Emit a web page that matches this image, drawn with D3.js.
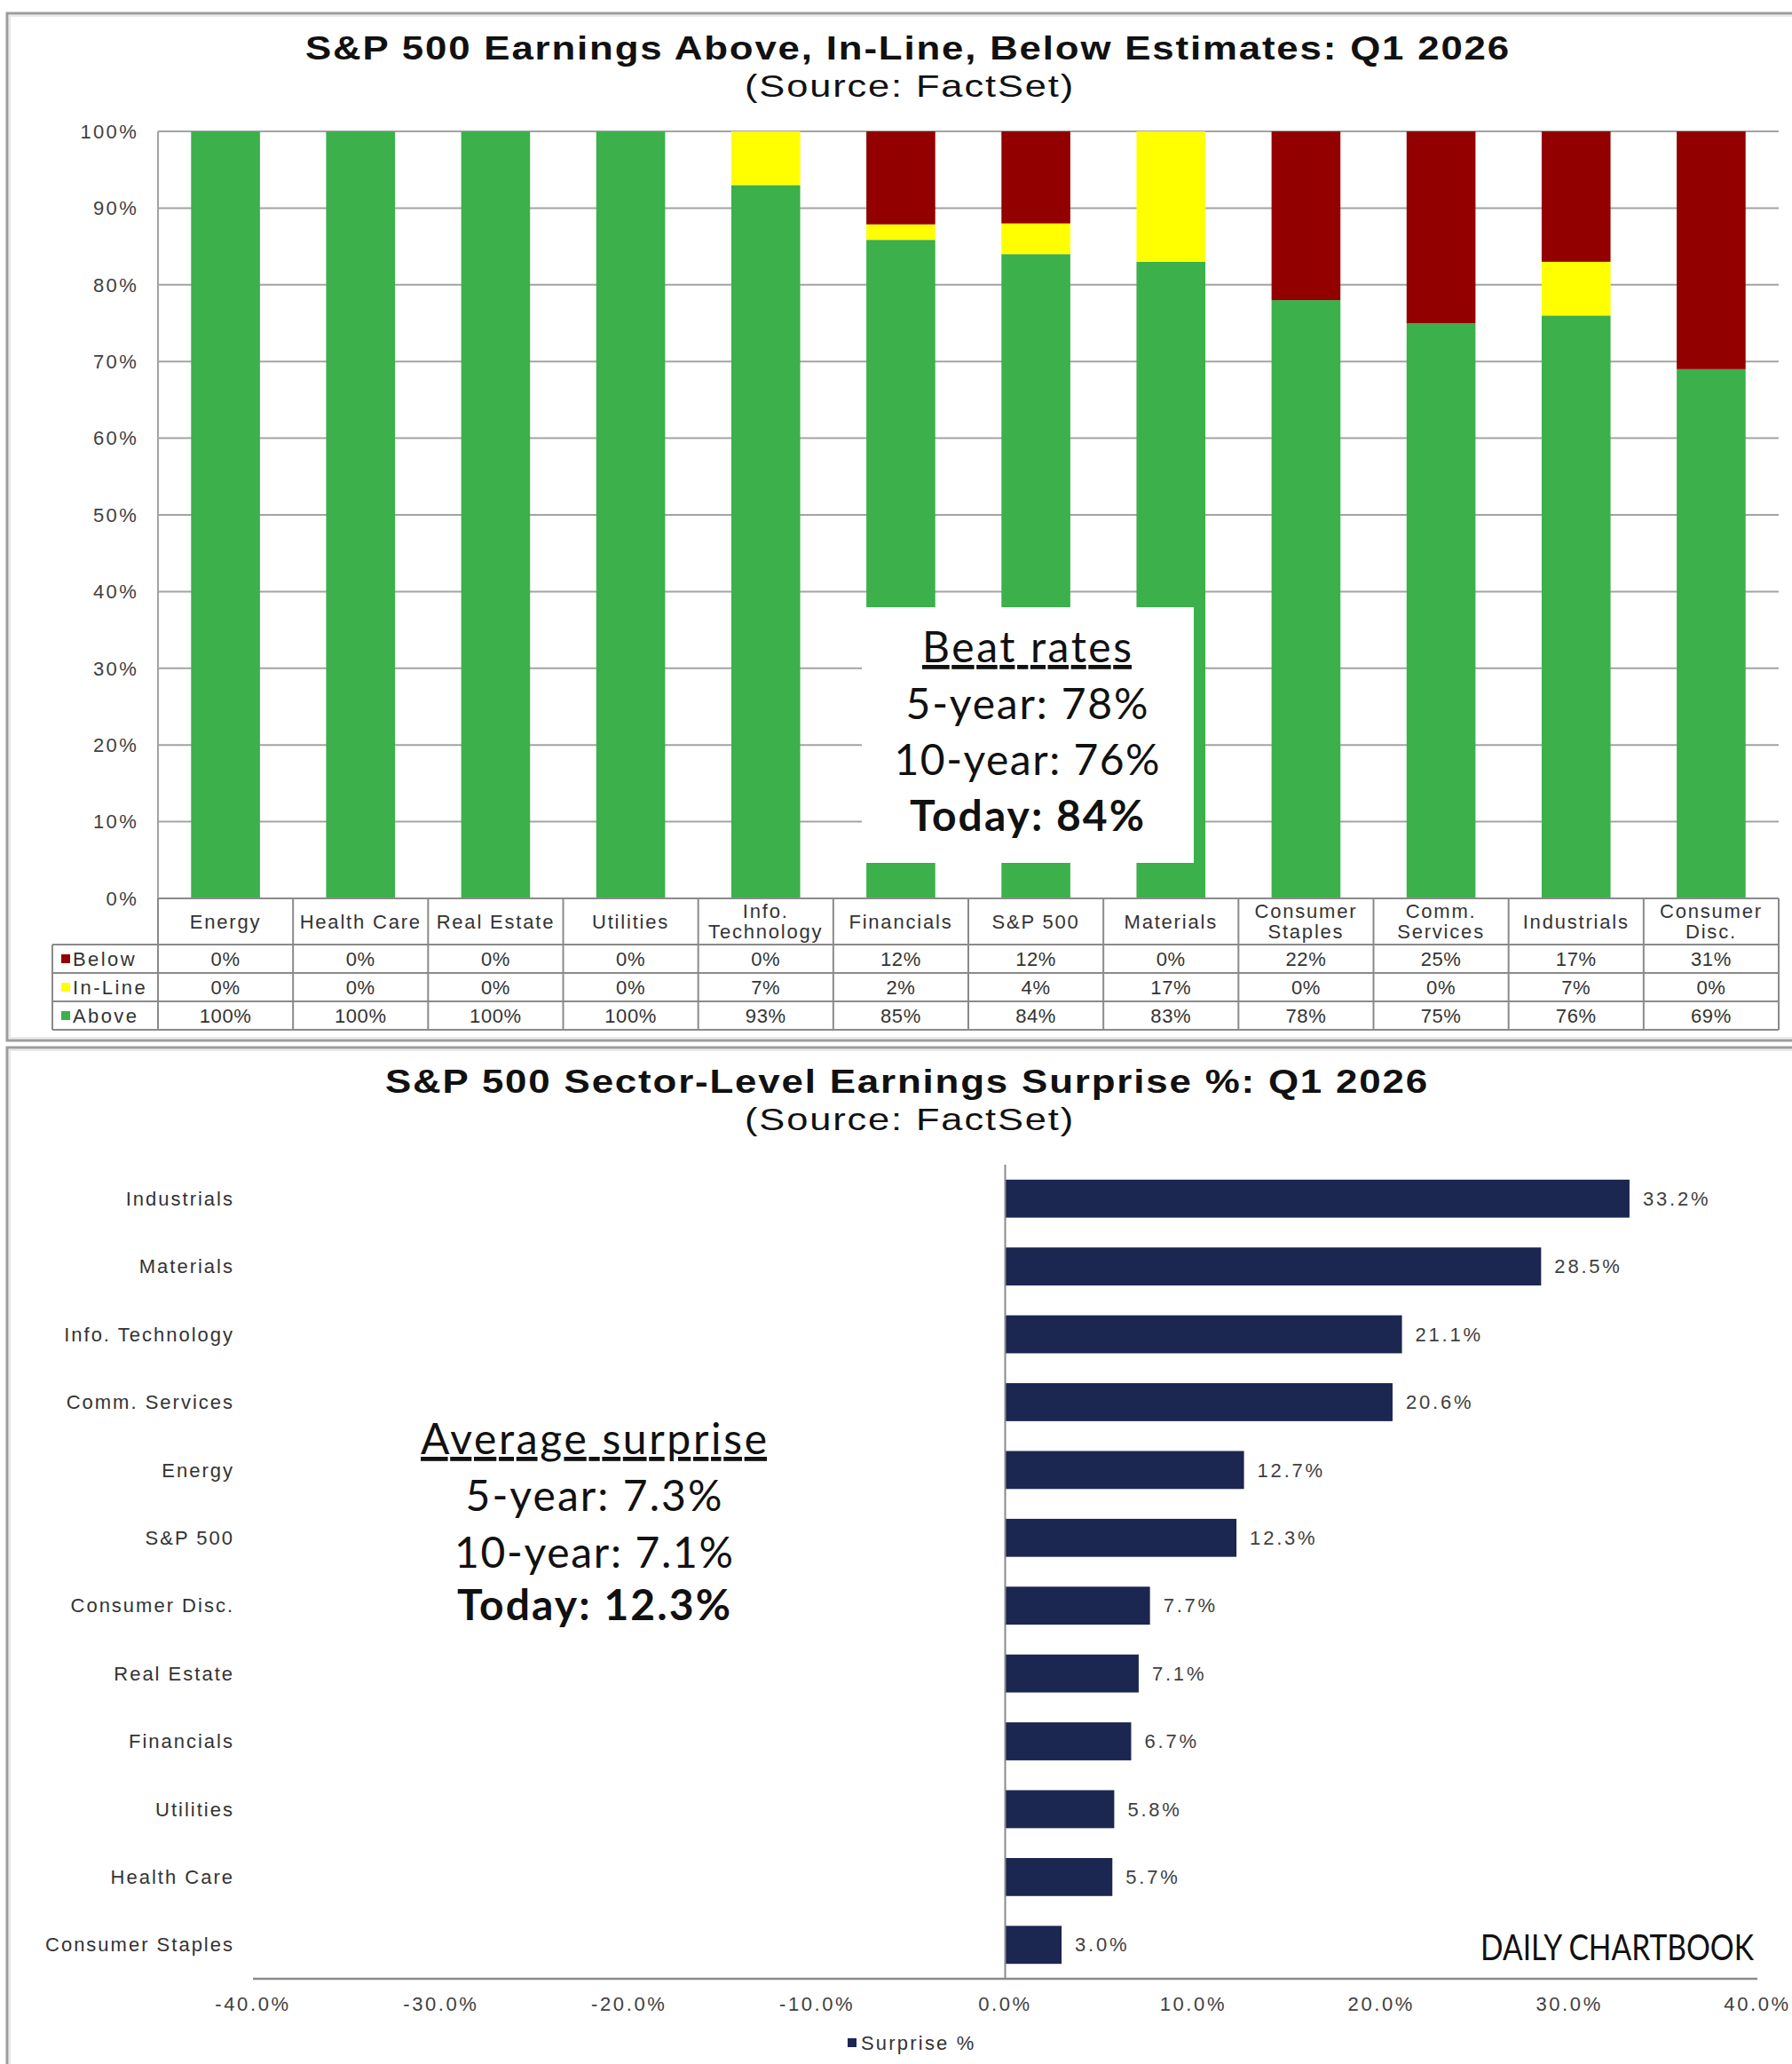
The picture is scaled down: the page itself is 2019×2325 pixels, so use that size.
<!DOCTYPE html>
<html>
<head>
<meta charset="utf-8">
<script src="https://cdn.jsdelivr.net/npm/d3@7"></script>
<style>
  html, body { margin: 0; padding: 0; background: #fff; }
  svg { display: block; }
</style>
</head>
<body>
<svg id="chart" width="2019" height="2325"></svg>
<script>
// ---------- DATA ----------
const beatCategories = ["Energy", "Health Care", "Real Estate", "Utilities", "Info.\nTechnology", "Financials", "S&P 500", "Materials", "Consumer\nStaples", "Comm.\nServices", "Industrials", "Consumer\nDisc."];
const belowPct  = [0, 0, 0, 0, 0, 12, 12, 0, 22, 25, 17, 31];
const inLinePct = [0, 0, 0, 0, 7, 2, 4, 17, 0, 0, 7, 0];
const abovePct  = [100, 100, 100, 100, 93, 85, 84, 83, 78, 75, 76, 69];
const seriesNames = ["Below", "In-Line", "Above"];
const yTickValues = [0, 0.1, 0.2, 0.3, 0.4, 0.5, 0.6, 0.7, 0.8, 0.9, 1.0];

const surpriseSectors = ["Industrials", "Materials", "Info. Technology", "Comm. Services", "Energy", "S&P 500", "Consumer Disc.", "Real Estate", "Financials", "Utilities", "Health Care", "Consumer Staples"];
const surpriseValues  = [33.2, 28.5, 21.1, 20.6, 12.7, 12.3, 7.7, 7.1, 6.7, 5.8, 5.7, 3.0];
const xTickValues = [-40, -30, -20, -10, 0, 10, 20, 30, 40];

const beatNote = ["Beat rates", "5-year: 78%", "10-year: 76%", "Today: 84%"];
const surpriseNote = ["Average surprise", "5-year: 7.3%", "10-year: 7.1%", "Today: 12.3%"];

// ---------- STYLE ----------
const colors = { "Above": "#3bb04b", "In-Line": "#ffff00", "Below": "#930000" };
const navy = "#1b2750";
const gridColor = "#a3a3a3";
const textColor = "#333";
const axisFont = "'Liberation Sans', Arial, sans-serif";
const noteFont = "Lato, 'Open Sans', sans-serif";

const svg = d3.select("#chart");
svg.append("rect").attr("width", 2019).attr("height", 2325).attr("fill", "#fff");

// panel frames
function frame(x, y, w, h) {
  svg.append("rect").attr("x", x).attr("y", y).attr("width", w).attr("height", h)
    .attr("fill", "none").attr("stroke", "#9c9c9c").attr("stroke-width", 3);
  svg.append("rect").attr("x", x + 3).attr("y", y + 3).attr("width", w - 6).attr("height", h - 6)
    .attr("fill", "none").attr("stroke", "#e2e2e2").attr("stroke-width", 1.5);
}
frame(8, 15, 2040, 1157);
frame(8, 1180, 2040, 1200);

function titleText(txt, cx, y, size, weight, width) {
  svg.append("text").attr("x", cx).attr("y", y).attr("text-anchor", "middle")
    .attr("font-family", axisFont).attr("font-size", size).attr("font-weight", weight)
    .attr("fill", "#111").attr("letter-spacing", 1.5)
    .attr("textLength", width).attr("lengthAdjust", "spacingAndGlyphs")
    .text(txt);
}
function xlText(sel, ls) {
  return sel.attr("font-family", axisFont).attr("font-size", 22).attr("letter-spacing", ls);
}

// ================= TOP CHART =================
titleText("S&P 500 Earnings Above, In-Line, Below Estimates: Q1 2026", 1023, 67, 36, "bold", 1358);
titleText("(Source: FactSet)", 1025, 109, 35, "normal", 372);

const plotL = 178, plotR = 2004, plotT = 148, plotB = 1012;
const x1 = d3.scaleBand().domain(beatCategories).range([plotL, plotR]).paddingInner(0.49).paddingOuter(0.245);
const xCell = d3.scaleBand().domain(beatCategories).range([plotL, plotR]).padding(0);
const y1 = d3.scaleLinear().domain([0, 1]).range([plotB, plotT]);

// gridlines
svg.append("g").selectAll("line").data(yTickValues.filter(d => d > 0)).join("line")
  .attr("x1", plotL).attr("x2", plotR).attr("y1", d => y1(d)).attr("y2", d => y1(d))
  .attr("stroke", gridColor).attr("stroke-width", 2);
svg.append("line").attr("x1", plotL).attr("x2", plotL).attr("y1", plotT).attr("y2", plotB)
  .attr("stroke", gridColor).attr("stroke-width", 2);

// y labels
xlText(svg.append("g").selectAll("text").data(yTickValues).join("text"), 2.3)
  .attr("x", 156).attr("y", d => y1(d)).attr("dy", "0.35em").attr("text-anchor", "end")
  .attr("fill", "#404040")
  .text(d => d3.format(".0%")(d));

// stacked bars
const rows = beatCategories.map((c, i) => ({ cat: c, "Above": abovePct[i], "In-Line": inLinePct[i], "Below": belowPct[i] }));
const stack = d3.stack().keys(["Above", "In-Line", "Below"]).offset(d3.stackOffsetExpand);
const stacked = stack(rows);
svg.append("g").selectAll("g").data(stacked).join("g")
  .attr("fill", s => colors[s.key])
  .selectAll("rect").data(s => s).join("rect")
  .attr("x", d => x1(d.data.cat)).attr("width", x1.bandwidth())
  .attr("y", d => y1(d[1])).attr("height", d => Math.max(0, y1(d[0]) - y1(d[1])));

// note box
const bx = 971, by = 684, bw = 374, bh = 288;
svg.append("rect").attr("x", bx).attr("y", by).attr("width", bw).attr("height", bh).attr("fill", "#fff");
function note(lines, cx, baselines, widths) {
  lines.forEach((t, i) => {
    svg.append("text").attr("x", cx).attr("y", baselines[i]).attr("text-anchor", "middle")
      .attr("font-family", noteFont).attr("font-size", 48)
      .attr("font-weight", i === 3 ? 700 : 400).attr("fill", "#111")
      .attr("text-decoration", i === 0 ? "underline" : null)
      .attr("textLength", widths[i]).attr("lengthAdjust", "spacing")
      .text(t);
  });
}
note(beatNote, 1157, [746, 810, 873, 936], [236, 273, 299, 264]);

// table
const rowY = [1012, 1064, 1096, 1128, 1160];
const tableL = 59;
const tbl = svg.append("g").attr("stroke", "#8a8a8a").attr("stroke-width", 2);
tbl.append("line").attr("x1", plotL).attr("x2", plotR).attr("y1", rowY[0]).attr("y2", rowY[0]);
for (let r = 1; r < rowY.length; r++) {
  tbl.append("line").attr("x1", tableL).attr("x2", plotR).attr("y1", rowY[r]).attr("y2", rowY[r]);
}
beatCategories.forEach(c => {
  tbl.append("line").attr("x1", xCell(c)).attr("x2", xCell(c)).attr("y1", rowY[0]).attr("y2", rowY[4]);
});
tbl.append("line").attr("x1", plotR).attr("x2", plotR).attr("y1", rowY[0]).attr("y2", rowY[4]);
tbl.append("line").attr("x1", tableL).attr("x2", tableL).attr("y1", rowY[1]).attr("y2", rowY[4]);

// header labels
const hdr = xlText(svg.append("g"), 1.8).attr("fill", textColor).attr("text-anchor", "middle");
beatCategories.forEach(c => {
  const parts = c.split("\n");
  const cx = xCell(c) + xCell.bandwidth() / 2;
  const t = hdr.append("text").attr("x", cx).attr("y", parts.length === 1 ? 1038 : 1026);
  parts.forEach((p, i) => {
    t.append("tspan").attr("x", cx).attr("dy", i === 0 ? "0.35em" : 23).text(p);
  });
});
// values rows
const seriesArrays = { "Below": belowPct, "In-Line": inLinePct, "Above": abovePct };
seriesNames.forEach((s, r) => {
  const cy = (rowY[r + 1] + rowY[r + 2]) / 2;
  svg.append("rect").attr("x", 69).attr("y", cy - 5).attr("width", 10).attr("height", 10).attr("fill", colors[s]);
  xlText(svg.append("text"), 2.4).attr("x", 82).attr("y", cy).attr("dy", "0.35em")
    .attr("fill", textColor).text(s);
  beatCategories.forEach((c, i) => {
    xlText(svg.append("text"), 0.6).attr("x", xCell(c) + xCell.bandwidth() / 2).attr("y", cy).attr("dy", "0.35em")
      .attr("text-anchor", "middle").attr("fill", textColor)
      .text(seriesArrays[s][i] + "%");
  });
});

// ================= BOTTOM CHART =================
titleText("S&P 500 Sector-Level Earnings Surprise %: Q1 2026", 1022, 1231, 36, "bold", 1176);
titleText("(Source: FactSet)", 1025, 1273, 35, "normal", 372);

const x2 = d3.scaleLinear().domain([-40, 40]).range([285, 1980]);
const y2 = d3.scaleBand().domain(surpriseSectors).range([1312, 2229]).paddingInner(0.44).paddingOuter(0.22);

// bars
svg.append("g").selectAll("rect").data(surpriseSectors).join("rect")
  .attr("x", (d, i) => x2(Math.min(0, surpriseValues[i])))
  .attr("width", (d, i) => Math.abs(x2(surpriseValues[i]) - x2(0)))
  .attr("y", d => y2(d)).attr("height", y2.bandwidth())
  .attr("fill", navy);

// zero line & axis
svg.append("line").attr("x1", x2(0)).attr("x2", x2(0)).attr("y1", 1312).attr("y2", 2229)
  .attr("stroke", "#8a8a8a").attr("stroke-width", 2);
svg.append("line").attr("x1", x2(-40)).attr("x2", x2(40)).attr("y1", 2229).attr("y2", 2229)
  .attr("stroke", "#8a8a8a").attr("stroke-width", 2.5);

// value labels
xlText(svg.append("g").selectAll("text").data(surpriseSectors).join("text"), 2.8)
  .attr("x", (d, i) => x2(surpriseValues[i]) + 15)
  .attr("y", d => y2(d) + y2.bandwidth() / 2).attr("dy", "0.35em")
  .attr("fill", "#404040")
  .text((d, i) => surpriseValues[i].toFixed(1) + "%");

// category labels
xlText(svg.append("g").selectAll("text").data(surpriseSectors).join("text"), 2)
  .attr("x", 264).attr("y", d => y2(d) + y2.bandwidth() / 2).attr("dy", "0.35em")
  .attr("text-anchor", "end").attr("fill", textColor)
  .text(d => d);

// x tick labels
xlText(svg.append("g").selectAll("text").data(xTickValues).join("text"), 2.6)
  .attr("x", d => x2(d)).attr("y", 2257).attr("dy", "0.35em").attr("text-anchor", "middle")
  .attr("fill", "#404040")
  .text(d => d.toFixed(1) + "%");

// legend
svg.append("rect").attr("x", 955).attr("y", 2296).attr("width", 10).attr("height", 10).attr("fill", navy);
xlText(svg.append("text"), 2.2).attr("x", 970).attr("y", 2301).attr("dy", "0.35em")
  .attr("fill", textColor).text("Surprise %");

// surprise note
surpriseNote.forEach((t, i) => {
  svg.append("text").attr("x", 669).attr("y", [1638, 1702, 1766, 1825][i]).attr("text-anchor", "middle")
    .attr("font-family", noteFont).attr("font-size", 48)
    .attr("font-weight", i === 3 ? 700 : 400).attr("fill", "#111")
    .attr("text-decoration", i === 0 ? "underline" : null)
    .attr("textLength", [390, 289, 314, 308][i]).attr("lengthAdjust", "spacing")
    .text(t);
});

// watermark (fit to width with a horizontal scale instead of textLength)
const wmG = svg.append("g");
const wm = wmG.append("text").attr("x", 0).attr("y", 0).attr("text-anchor", "end")
  .attr("font-family", noteFont).attr("font-size", 40).attr("fill", "#111")
  .text("DAILY CHARTBOOK");
const wmW = wm.node().getComputedTextLength() || 308;
wmG.attr("transform", `translate(1976,2208) scale(${Math.min(1, 308 / wmW)},1)`);
</script>
</body>
</html>
